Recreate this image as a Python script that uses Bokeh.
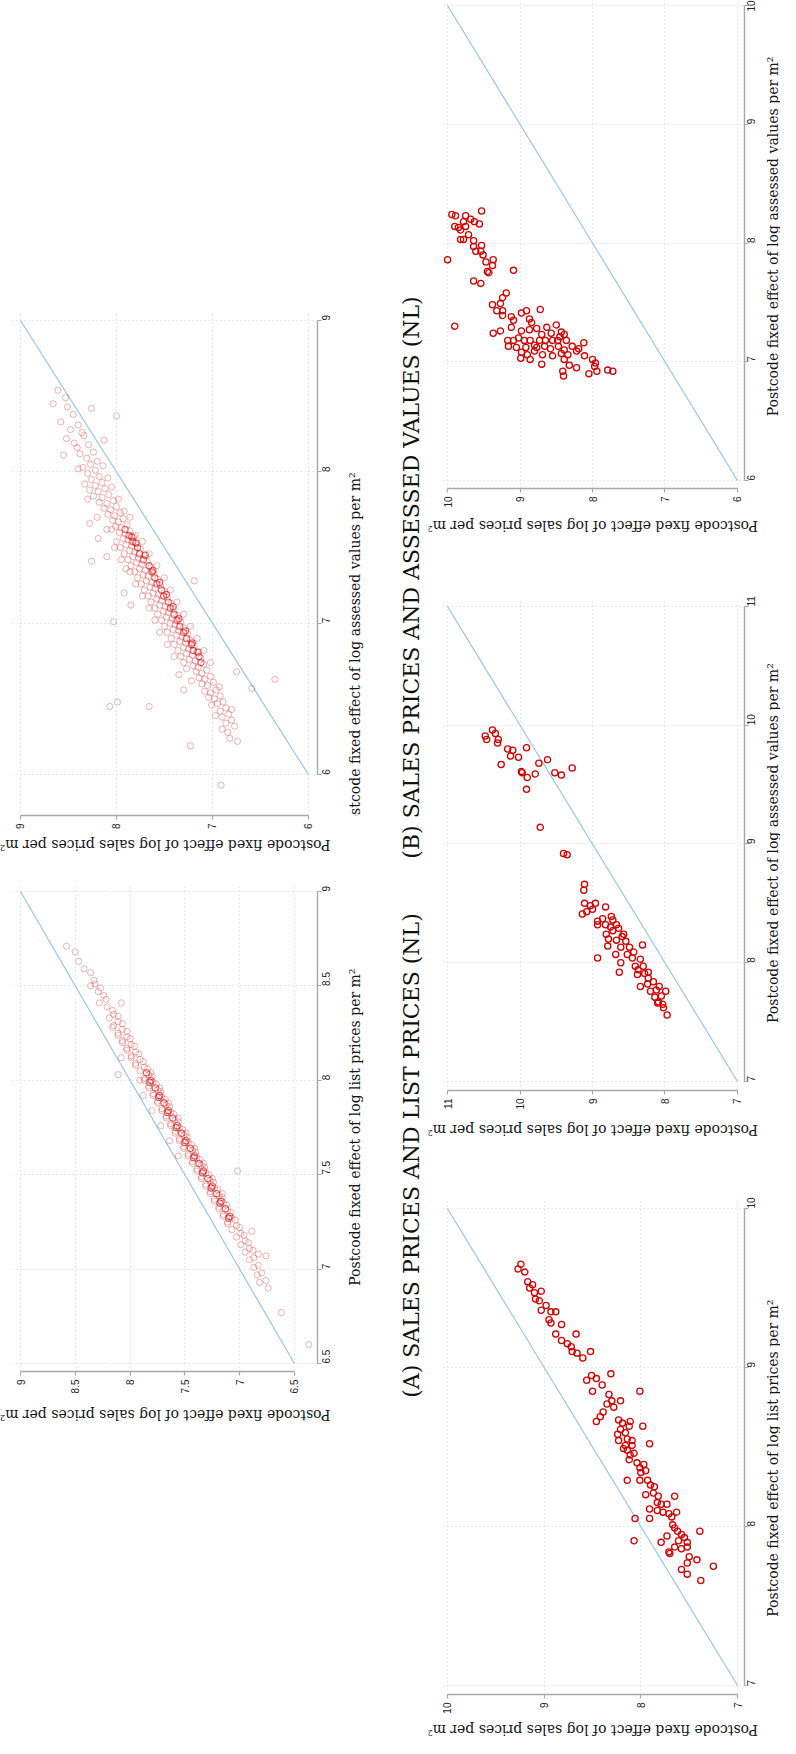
import math
from bokeh.plotting import figure
from bokeh.models import Range1d, FixedTicker, CustomJSTickFormatter, Label
from bokeh.layouts import row, column
from bokeh.embed import file_html
from bokeh.resources import INLINE

# ---------------- data (sales, other) ----------------
# L1: sales vs assessed values (faint cloud)
l1_sales_assessed = [
    (8.61,8.54),(8.53,8.49),(8.66,8.45),(8.51,8.43),(8.26,8.42),(8.45,8.38),(8.00,8.37),(8.58,8.33),(8.40,8.31),
    (8.48,8.28),(8.36,8.26),(8.34,8.24),(8.52,8.22),(8.13,8.21),(8.44,8.19),(8.29,8.18),(8.41,8.16),(8.24,8.13),
    (8.38,8.12),(8.55,8.11),(8.31,8.09),(8.20,8.07),
    (8.27,8.05),(8.35,8.03),(8.14,8.04),(8.22,8.01),(8.30,7.99),(8.40,8.02),(8.18,7.97),(8.26,7.95),(8.09,7.96),
    (8.15,7.93),(8.22,7.91),(8.33,7.92),(8.05,7.90),(8.12,7.89),(8.19,7.87),(8.28,7.88),(8.08,7.85),(8.15,7.83),
    (8.24,7.84),(7.98,7.82),(8.03,7.81),(8.10,7.79),(8.18,7.80),(8.30,7.82),(8.00,7.77),(8.06,7.75),(8.13,7.76),
    (7.92,7.74),(7.96,7.73),(8.02,7.71),(8.09,7.72),(8.20,7.70),(7.93,7.69),(7.98,7.67),(8.04,7.68),(8.28,7.66),
    (7.86,7.70),(7.89,7.65),(7.95,7.63),(8.01,7.64),(8.10,7.62),(7.86,7.61),(7.91,7.59),(7.97,7.60),(8.05,7.62),
    (7.80,7.58),(7.82,7.57),(7.88,7.55),(7.93,7.56),(8.00,7.54),(8.19,7.56),(7.79,7.53),(7.84,7.51),(7.90,7.52),
    (7.96,7.50),(7.73,7.54),(7.75,7.49),(7.81,7.47),(7.86,7.48),(7.92,7.46),(8.02,7.50),(7.71,7.45),(7.77,7.43),
    (7.83,7.44),(7.88,7.42),(7.66,7.46),(8.10,7.44),(8.26,7.41),(7.68,7.41),(7.74,7.39),(7.79,7.40),(7.85,7.38),
    (7.95,7.42),(7.64,7.37),(7.70,7.35),(7.76,7.36),(7.81,7.34),(7.58,7.38),(7.90,7.36),(7.61,7.33),(7.67,7.31),
    (7.72,7.32),(7.78,7.30),(7.86,7.34),(7.57,7.29),(7.63,7.27),(7.69,7.28),(7.74,7.26),(7.50,7.30),(7.19,7.28),
    (7.54,7.25),(7.60,7.23),(7.65,7.24),(7.71,7.22),(7.80,7.26),(7.50,7.21),(7.56,7.19),(7.62,7.20),(7.67,7.18),
    (7.44,7.22),(7.92,7.20),(7.47,7.17),(7.53,7.15),(7.58,7.16),(7.64,7.14),(7.73,7.18),(7.43,7.13),(7.49,7.11),
    (7.55,7.12),(7.60,7.10),(7.37,7.14),(7.85,7.12),(7.40,7.09),(7.46,7.07),(7.51,7.08),(7.57,7.06),(7.66,7.10),
    (7.36,7.05),(7.42,7.03),(7.48,7.04),(7.53,7.02),(7.30,7.06),(8.03,7.01),(7.33,7.01),(7.39,6.99),(7.44,7.00),
    (7.50,6.98),(7.60,7.02),(7.30,6.97),(7.35,6.95),(7.41,6.96),(7.47,6.94),(7.23,6.98),(7.26,6.93),(7.32,6.91),
    (7.37,6.92),(7.43,6.90),(7.55,6.94),(7.23,6.89),(7.28,6.87),(7.34,6.88),(7.40,6.86),(7.16,6.90),(7.19,6.85),
    (7.25,6.83),(7.30,6.84),(7.36,6.82),(7.47,6.86),(7.16,6.81),(7.21,6.79),(7.27,6.80),(7.33,6.78),(7.09,6.82),
    (7.12,6.77),(7.18,6.75),(7.24,6.76),(7.30,6.74),(7.40,6.78),(7.09,6.73),(7.15,6.71),(7.20,6.72),(7.27,6.70),
    (7.02,6.74),(7.06,6.69),(7.11,6.67),(7.17,6.68),(6.75,6.68),(7.35,6.66),(7.02,6.65),(7.08,6.63),(7.14,6.64),
    (7.22,6.62),(6.99,6.61),(7.05,6.59),(7.11,6.60),(6.93,6.58),(6.59,6.57),(6.96,6.56),(7.02,6.54),(7.08,6.55),
    (7.30,6.56),(6.92,6.52),(6.98,6.50),(7.04,6.51),(6.89,6.48),(6.95,6.47),(7.01,6.46),(7.99,6.48),(8.07,6.45),
    (7.66,6.45),(6.86,6.44),(6.92,6.42),(6.80,6.43),(6.83,6.40),(6.90,6.38),(6.97,6.39),(6.80,6.36),(6.86,6.34),
    (6.77,6.32),(6.90,6.30),(6.84,6.28),(6.82,6.24),(6.74,6.22),(7.23,6.19),(6.35,6.63),(6.91,5.93),
]
# L1: the darkest part of the cloud
l1_core = [
    (7.87,7.58),(7.83,7.54),(7.78,7.50),(7.76,7.46),(7.72,7.42),(7.66,7.38),(7.63,7.34),(7.60,7.30),(7.58,7.26),
    (7.53,7.22),(7.51,7.18),(7.46,7.14),(7.44,7.10),(7.40,7.06),(7.37,7.02),(7.34,6.98),(7.30,6.94),(7.27,6.90),
    (7.22,6.86),(7.20,6.82),(7.14,6.78),(7.12,6.74),(7.91,7.62),(7.84,7.57),(7.80,7.53),(7.70,7.45),(7.62,7.35),
    (7.55,7.27),(7.48,7.19),(7.41,7.11),(7.35,7.03),(7.28,6.95),(7.21,6.87),(7.15,6.81),
]

# L2: sales vs list prices (faint band)
l2_sales_list = [
    (8.58,8.71),(8.50,8.68),(8.47,8.63),(8.42,8.59),(8.36,8.57),(8.33,8.53),(8.32,8.51),(8.27,8.49),(8.36,8.50),
    (8.29,8.47),(8.24,8.45),(8.22,8.43),(8.28,8.41),(8.08,8.41),(8.21,8.39),(8.16,8.37),(8.15,8.35),(8.19,8.33),
    (8.11,8.34),(8.11,8.31),(8.15,8.29),(8.07,8.30),(8.07,8.27),(8.11,8.25),(8.03,8.26),(8.16,8.28),(8.03,8.23),
    (8.07,8.21),(8.00,8.22),(8.11,8.24),(7.99,8.19),(8.03,8.17),(7.96,8.18),(8.07,8.20),(7.95,8.15),(7.99,8.13),
    (7.92,8.14),(8.03,8.16),(8.08,8.12),(7.91,8.11),(7.95,8.09),(7.88,8.10),(7.99,8.12),(7.87,8.07),(7.91,8.05),
    (7.84,8.06),(7.95,8.08),(7.81,8.04),(8.11,8.03),(7.83,8.03),(7.87,8.01),(7.80,8.02),(7.91,8.00),(7.79,7.99),
    (7.83,7.97),(7.76,7.98),(7.87,8.00),(7.73,7.96),(7.75,7.95),(7.79,7.93),(7.72,7.94),(7.83,7.96),(7.88,7.92),
    (7.71,7.91),(7.75,7.89),(7.68,7.90),(7.79,7.92),(7.65,7.88),(7.67,7.87),(7.71,7.85),(7.64,7.86),(7.75,7.88),
    (7.80,7.84),(7.63,7.83),(7.67,7.81),(7.60,7.82),(7.71,7.84),(7.56,7.80),(7.59,7.79),(7.63,7.77),(7.56,7.78),
    (7.67,7.80),(7.72,7.76),(7.55,7.75),(7.59,7.73),(7.52,7.74),(7.63,7.76),(7.49,7.72),(7.51,7.71),(7.55,7.69),
    (7.48,7.70),(7.59,7.72),(7.64,7.68),(7.47,7.67),(7.51,7.65),(7.44,7.66),(7.55,7.68),(7.41,7.64),(7.43,7.63),
    (7.47,7.61),(7.40,7.62),(7.51,7.64),(7.56,7.60),(7.39,7.59),(7.43,7.57),(7.36,7.58),(7.47,7.60),(7.33,7.56),
    (7.35,7.55),(7.39,7.53),(7.32,7.54),(7.43,7.56),(7.02,7.52),(7.31,7.51),(7.35,7.49),(7.28,7.50),(7.39,7.52),
    (7.25,7.48),(7.27,7.47),(7.31,7.45),(7.24,7.46),(7.35,7.48),(7.23,7.43),(7.27,7.41),(7.20,7.42),(7.31,7.44),
    (7.16,7.40),(7.19,7.39),(7.23,7.37),(7.16,7.38),(7.27,7.40),(7.15,7.35),(7.19,7.33),(7.12,7.34),(7.23,7.36),
    (7.11,7.31),(7.15,7.29),(7.08,7.30),(7.19,7.32),(7.07,7.27),(7.11,7.25),(7.04,7.26),(7.15,7.28),(7.03,7.23),
    (7.07,7.21),(7.00,7.22),(7.11,7.24),(6.89,7.20),(6.99,7.19),(7.03,7.17),(6.96,7.18),(6.95,7.15),(6.99,7.13),
    (6.92,7.14),(6.91,7.11),(6.95,7.09),(6.88,7.10),(6.76,7.07),(6.83,7.08),(6.87,7.06),(6.91,7.05),(6.83,7.02),
    (6.87,7.01),(6.80,6.98),(6.84,6.97),(6.76,6.94),(6.82,6.93),(6.74,6.90),(6.62,6.77),(6.37,6.60),
]
# L2: the darkest part of the band
l2_core = [
    (7.85,8.04),(7.81,8.00),(7.77,7.96),(7.73,7.92),(7.69,7.88),(7.65,7.84),(7.61,7.80),(7.57,7.76),(7.53,7.72),
    (7.49,7.68),(7.45,7.64),(7.41,7.60),(7.37,7.56),(7.33,7.52),(7.29,7.48),(7.25,7.44),(7.21,7.40),(7.17,7.36),
    (7.13,7.32),(7.09,7.28),(7.82,7.99),(7.74,7.91),(7.66,7.83),(7.58,7.75),(7.50,7.67),(7.42,7.59),(7.34,7.51),
    (7.26,7.43),(7.18,7.35),(7.10,7.27),
]

# R1: sales vs assessed values (NL, axes 6-10)
r1_sales_assessed = [
    (9.94,8.24),(9.89,8.23),(9.75,8.23),(9.68,8.20),(9.53,8.27),(9.90,8.14),(9.85,8.13),(9.78,8.18),(9.75,8.14),
    (9.82,8.11),(9.71,8.07),(9.82,8.03),(9.78,8.03),(9.63,8.18),(9.56,8.16),(9.64,8.02),(9.64,7.97),(9.61,7.93),
    (9.53,7.98),(9.54,7.93),(9.51,7.90),(9.47,7.84),(9.37,7.86),(9.38,7.81),(9.45,7.76),(9.43,7.75),(10.00,7.86),
    (9.09,7.77),(9.64,7.68),(9.54,7.66),(9.19,7.58),(9.24,7.54),(9.38,7.48),(9.27,7.49),(9.32,7.43),(9.24,7.43),
    (9.24,7.39),(9.12,7.38),(9.09,7.35),(8.98,7.41),(8.91,7.43),(8.72,7.44),(8.87,7.36),(8.84,7.33),(9.12,7.29),
    (9.90,7.30),(9.37,7.24),(9.27,7.26),(8.98,7.26),(8.87,7.27),(8.77,7.28),(8.70,7.23),(8.63,7.29),(8.50,7.31),
    (8.57,7.24),(8.43,7.25),(8.39,7.23),(8.45,7.21),(9.17,7.18),(9.09,7.18),(9.02,7.20),(8.94,7.18),(8.86,7.18),
    (8.80,7.14),(8.73,7.18),(8.65,7.18),(8.55,7.18),(8.48,7.18),(8.36,7.18),(9.16,7.13),(9.05,7.12),(8.92,7.12),
    (8.77,7.12),(8.66,7.13),(8.58,7.11),(8.47,7.13),(8.39,7.10),(8.28,7.13),(8.19,7.11),(8.12,7.16),(8.98,7.08),
    (8.90,7.06),(8.80,7.09),(8.69,7.06),(8.55,7.05),(8.43,7.07),(8.34,7.06),(8.22,7.09),(8.11,7.05),(8.99,7.03),
    (8.86,7.02),(8.70,6.98),(8.39,7.02),(8.32,6.97),(8.22,6.95),(8.00,7.02),(7.96,6.99),(7.97,6.96),(7.94,6.92),
    (8.05,6.90),(8.41,6.92),(8.40,6.88),(7.79,6.93),(7.72,6.92),
]

# R2: sales vs assessed values (NL, axes 7-11)
r2_sales_assessed = [
    (10.48,9.91),(10.46,9.88),(10.38,9.96),(10.34,9.93),(10.30,9.88),(10.31,9.85),(10.17,9.80),(10.10,9.79),
    (9.91,9.81),(10.13,9.74),(10.02,9.73),(10.26,9.67),(9.62,9.71),(9.74,9.68),(9.98,9.61),(9.97,9.60),(9.90,9.56),
    (9.79,9.59),(9.52,9.60),(9.43,9.58),(9.28,9.64),(9.91,9.46),(9.72,9.14),(9.40,8.92),(9.35,8.91),(9.11,8.66),
    (9.12,8.61),(9.11,8.50),(9.03,8.48),(8.96,8.50),(8.82,8.47),(9.14,8.41),(9.08,8.43),(9.00,8.45),(8.93,8.35),
    (8.86,8.37),(8.74,8.39),(8.93,8.32),(8.82,8.32),(8.75,8.30),(8.67,8.32),(8.81,8.24),(8.72,8.27),(8.64,8.29),
    (8.57,8.24),(8.93,8.04),(8.78,8.20),(8.67,8.19),(8.54,8.18),(8.79,8.14),(8.61,8.13),(8.49,8.13),(8.31,8.15),
    (8.68,8.07),(8.52,8.07),(8.45,8.04),(8.61,8.00),(8.63,7.92),(8.41,7.97),(8.37,7.94),(8.30,7.97),(8.38,7.90),
    (8.28,7.91),(8.23,7.87),(8.34,7.80),(8.24,7.82),(8.16,7.84),(8.20,7.76),(8.12,7.77),(7.99,7.76),(8.14,7.71),
    (8.09,7.67),(8.03,7.65),(8.02,7.62),(7.97,7.56),(8.72,8.36),(8.59,8.22),(8.43,8.09),(8.34,8.03),(8.23,7.92),
    (8.08,7.80),(8.05,7.72),(8.10,7.66),
]

# R3: sales vs list prices (NL, axes 7-10)
r3_sales_list = [
    (9.24,9.65),(9.27,9.62),(9.20,9.60),(9.17,9.54),(9.12,9.52),(9.15,9.50),(9.10,9.47),(9.03,9.48),(9.09,9.43),
    (9.05,9.42),(8.98,9.39),(9.03,9.36),(8.93,9.35),(8.88,9.35),(8.95,9.30),(8.93,9.28),(8.82,9.27),(8.88,9.21),
    (8.82,9.17),(8.67,9.21),(8.76,9.15),(8.72,9.13),(8.71,9.10),(8.66,9.09),(8.60,9.06),(8.52,9.10),(8.56,8.92),
    (8.51,8.95),(8.46,8.93),(8.31,8.96),(8.50,8.85),(8.40,8.89),(8.33,8.83),(8.30,8.79),(8.21,8.79),(8.35,8.77),
    (8.28,8.75),(8.39,8.72),(8.46,8.66),(8.42,8.69),(8.01,8.85),(8.23,8.67),(8.19,8.65),(8.11,8.66),(8.12,8.63),
    (8.24,8.58),(8.21,8.61),(8.16,8.59),(7.98,8.63),(8.23,8.54),(8.14,8.55),(8.09,8.54),(8.16,8.51),(8.18,8.49),
    (8.09,8.51),(7.91,8.52),(8.14,8.48),(8.11,8.45),(8.07,8.46),(8.12,8.42),(8.04,8.40),(7.97,8.39),(8.01,8.37),
    (7.95,8.35),(8.00,8.34),(8.14,8.29),(8.01,8.29),(7.93,8.29),(7.90,8.26),(7.86,8.25),(7.95,8.20),(7.87,8.21),
    (7.82,8.19),(7.65,8.19),(7.83,8.15),(7.79,8.14),(7.73,8.14),(7.91,8.11),(7.83,8.10),(7.77,8.09),(7.71,8.08),
    (7.63,8.09),(8.06,8.05),(7.91,8.05),(7.68,8.06),(7.67,8.01),(7.65,7.99),(7.62,7.97),(7.73,7.94),(7.58,7.95),
    (7.55,7.93),(7.39,7.97),(8.07,7.91),(7.79,7.90),(7.61,7.91),(7.52,7.90),(7.65,7.87),(7.58,7.86),(7.52,7.87),
    (7.71,7.84),(7.70,7.83),(7.50,7.81),(7.52,7.77),(7.58,7.73),(7.42,7.79),(7.25,7.75),(7.52,7.70),(7.38,7.66),
]

# tick values (also the span of each 45-degree line)
l1_ticks = [6, 7, 8, 9]
l2_ticks = [6.5, 7, 7.5, 8, 8.5, 9]
r1_ticks = [6, 7, 8, 9, 10]
r2_ticks = [7, 8, 9, 10, 11]
r3_ticks = [7, 8, 9, 10]

SALES_LABEL = "Postcode fixed effect of log sales prices per m²"
LIST_LABEL = "Postcode fixed effect of log list prices per m²"
ASSESSED_LABEL = "Postcode fixed effect of log assessed values per m²"
CAPTION_A = "(A) SALES PRICES AND LIST PRICES (NL)"
CAPTION_B = "(B) SALES PRICES AND ASSESSED VALUES (NL)"

# ---------------- styling ----------------
RED = "#d20000"
BLUE = "#8cc4ec"
GRID = "#d4d4d4"
AXIS = "#a8a8a8"
SERIF = "DejaVu Serif"
SANS = "Liberation Sans"


def panel(width, height, borders, x_rng, y_rng, ticks, pts, faint, core=None, lstand_y=5):
    left, right, top, bottom = borders
    p = figure(width=width, height=height,
               x_range=Range1d(*x_rng), y_range=Range1d(*y_rng),
               x_axis_location="below", y_axis_location="right",
               output_backend="svg", toolbar_location=None,
               min_border_left=left, min_border_right=right,
               min_border_top=top, min_border_bottom=bottom)
    p.outline_line_color = None
    p.background_fill_color = "white"
    p.border_fill_color = "white"

    diag = [min(ticks), max(ticks)]
    p.line(diag, diag, line_color=BLUE, line_width=1.1)
    p.scatter([a for a, b in pts], [b for a, b in pts], marker="circle", size=6.2,
              fill_color=None, line_color=RED, line_alpha=0.3 if faint else 1.0,
              line_width=1.0 if faint else 1.3)
    if core:
        p.scatter([a for a, b in core], [b for a, b in core], marker="circle", size=6.2,
                  fill_color=None, line_color=RED, line_alpha=0.6, line_width=1.1)

    for ax, grid, lstand in ((p.xaxis[0], p.xgrid[0], 4), (p.yaxis[0], p.ygrid[0], lstand_y)):
        tk = FixedTicker(ticks=ticks)
        ax.ticker = tk
        grid.ticker = tk
        ax.formatter = CustomJSTickFormatter(code="return String(tick);")
        ax.bounds = (min(ticks), max(ticks))
        ax.minor_tick_line_color = None
        ax.major_tick_in = 0
        ax.major_tick_out = 4
        ax.major_tick_line_color = AXIS
        ax.major_tick_line_width = 1.2
        ax.axis_line_color = AXIS
        ax.axis_line_width = 1.4
        ax.major_label_orientation = math.pi / 2
        ax.major_label_standoff = lstand
        ax.major_label_text_font = SANS
        ax.major_label_text_font_size = "10px"
        ax.major_label_text_color = "#222222"
        grid.grid_line_color = GRID
        grid.grid_line_dash = "1 3"
        grid.grid_line_width = 1
    return p


def strip(width, height, x, y, text, angle, size="14px"):
    """A bare canvas (local pixel coordinates, y downwards) holding one rotated title."""
    s = figure(width=width, height=height, x_range=Range1d(0, width), y_range=Range1d(height, 0),
               output_backend="svg", toolbar_location=None, min_border=0,
               x_axis_location=None, y_axis_location=None)
    s.grid.visible = False
    s.outline_line_color = None
    s.add_layout(Label(x=x, y=y, text=text, angle=angle, text_align="center",
                       text_baseline="middle", text_font=SERIF, text_font_size=size,
                       text_color="#151515"))
    return s


UP = math.pi / 2     # reads bottom to top
FLIP = math.pi       # upside down

# ---------- left column (page x 8..404) ----------
L1 = panel(338, 832, (12, 21, 312, 15), (9.083, 5.906), (5.730, 9.053),
           l1_ticks, l1_sales_assessed, True, l1_core)
L1r = strip(58, 832, 16, 562, ASSESSED_LABEL, UP)
L1b = strip(396, 30, 164.5, 12, SALES_LABEL, FLIP)

L2 = panel(338, 535, (12, 21, 23, 26), (9.073, 6.290), (6.458, 9.032),
           l2_ticks, l2_sales_list, True, l2_core)
L2r = strip(58, 535, 16, 266, LIST_LABEL, UP)
L2b = strip(396, 341, 164.5, 17, SALES_LABEL, FLIP)

left_col = column(row(L1, L1r), L1b, row(L2, L2r), L2b)

# ---------- caption strip (page x 404..436) ----------
cap = figure(width=32, height=1738, x_range=Range1d(0, 32), y_range=Range1d(1738, 0),
             output_backend="svg", toolbar_location=None, min_border=0,
             x_axis_location=None, y_axis_location=None)
cap.grid.visible = False
cap.outline_line_color = None
for txt, yc in ((CAPTION_B, 577), (CAPTION_A, 1155)):
    cap.add_layout(Label(x=15, y=yc, text=txt, angle=UP,
                         text_align="center", text_baseline="middle",
                         text_font=SERIF, text_font_size="22px", text_color="#111111"))

# ---------- right column (page x 436..788) ----------
R1 = panel(336, 510, (12, 20, 2, 21), (10.097, 5.903), (5.933, 10.025),
           r1_ticks, r1_sales_assessed, False, None, 3)
R1r = strip(16, 510, 8, 245.5, ASSESSED_LABEL, UP)
R1b = strip(352, 72, 164, 15, SALES_LABEL, FLIP)

R2 = panel(336, 530, (12, 20, 17, 21), (11.097, 6.903), (6.924, 11.059),
           r2_ticks, r2_sales_assessed, False, None, 3)
R2r = strip(16, 530, 8, 263, ASSESSED_LABEL, UP)
R2b = strip(352, 45, 164, 17, SALES_LABEL, FLIP)

R3 = panel(336, 559, (12, 20, 44, 21), (10.072, 6.928), (6.943, 10.044),
           r3_ticks, r3_sales_list, False, None, 3)
R3r = strip(16, 559, 8, 291, LIST_LABEL, UP)
R3b = strip(352, 22, 164, 13, SALES_LABEL, FLIP)

right_col = column(row(R1, R1r), R1b, row(R2, R2r), R2b, row(R3, R3r), R3b)

layout = row(left_col, cap, right_col)

open("out.html", "w").write(file_html(layout, INLINE, title="Sales prices, list prices and assessed values (NL)"))
